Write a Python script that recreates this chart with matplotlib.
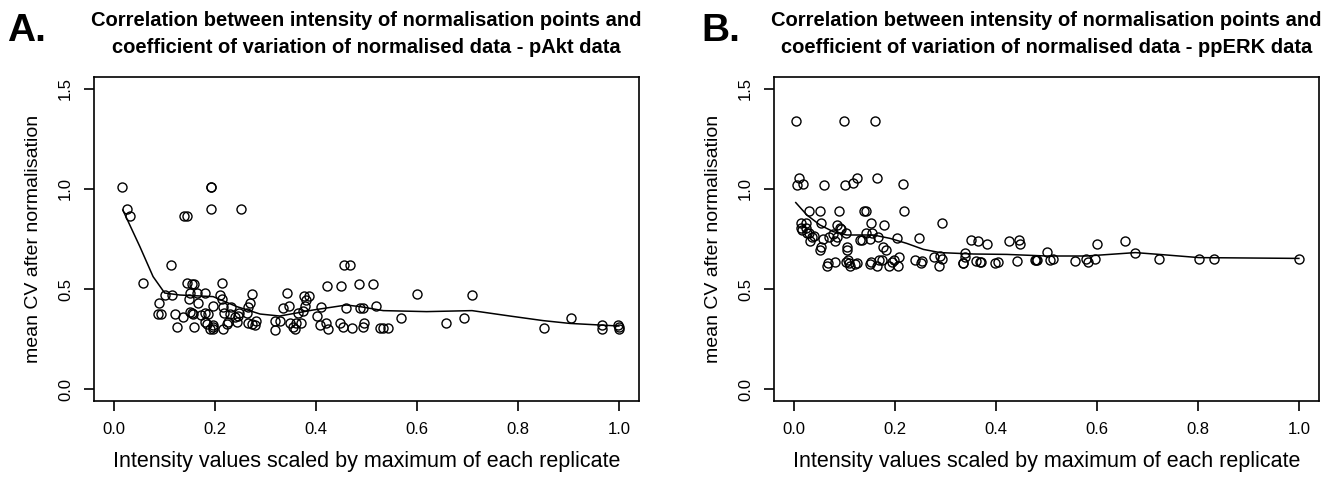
import numpy as np
import matplotlib
matplotlib.use('Agg')
from matplotlib import pyplot as plt

plt.rcParams['font.family'] = ['Liberation Sans', 'DejaVu Sans']

# ---- panel A: pAkt data ----
akt_x = [0.015, 0.026, 0.032, 0.057, 0.112, 0.139, 0.144, 0.192, 0.192, 0.192, 0.251,
         0.089, 0.087, 0.092, 0.100, 0.114, 0.120, 0.124, 0.136, 0.145, 0.155, 0.159,
         0.151, 0.164, 0.180, 0.149, 0.167, 0.151, 0.155, 0.157, 0.159, 0.171, 0.179,
         0.186, 0.180, 0.184, 0.190, 0.196, 0.196, 0.195, 0.196, 0.213, 0.209, 0.214,
         0.216, 0.217, 0.215, 0.223, 0.225, 0.232, 0.229, 0.240, 0.245, 0.247, 0.243,
         0.266, 0.270, 0.273, 0.264, 0.266, 0.274, 0.278, 0.281, 0.319, 0.328, 0.319,
         0.335, 0.346, 0.343, 0.348, 0.354, 0.358, 0.361, 0.371, 0.365, 0.375, 0.378,
         0.380, 0.377, 0.385, 0.402, 0.410, 0.407, 0.419, 0.423, 0.421, 0.449, 0.455,
         0.468, 0.459, 0.447, 0.453, 0.472, 0.493, 0.495, 0.486, 0.513, 0.488, 0.493,
         0.519, 0.527, 0.533, 0.543, 0.568, 0.599, 0.657, 0.694, 0.709, 0.851, 0.905,
         0.967, 0.967, 0.999, 1.000, 1.000]
akt_y = [1.008, 0.898, 0.865, 0.532, 0.622, 0.865, 0.865, 1.008, 1.008, 0.898, 0.898,
         0.432, 0.375, 0.375, 0.472, 0.472, 0.375, 0.312, 0.360, 0.532, 0.523, 0.523,
         0.478, 0.478, 0.478, 0.448, 0.432, 0.387, 0.378, 0.375, 0.312, 0.368, 0.378,
         0.375, 0.333, 0.325, 0.300, 0.300, 0.320, 0.310, 0.417, 0.532, 0.472, 0.448,
         0.412, 0.378, 0.300, 0.325, 0.333, 0.412, 0.374, 0.362, 0.365, 0.378, 0.333,
         0.412, 0.428, 0.475, 0.378, 0.332, 0.325, 0.320, 0.342, 0.342, 0.342, 0.295,
         0.405, 0.417, 0.478, 0.332, 0.312, 0.298, 0.328, 0.332, 0.378, 0.392, 0.417,
         0.445, 0.467, 0.467, 0.367, 0.412, 0.320, 0.332, 0.298, 0.517, 0.517, 0.622,
         0.622, 0.405, 0.328, 0.312, 0.303, 0.312, 0.332, 0.525, 0.525, 0.407, 0.405,
         0.417, 0.303, 0.303, 0.303, 0.357, 0.475, 0.328, 0.357, 0.468, 0.303, 0.357,
         0.320, 0.298, 0.320, 0.310, 0.298]
akt_fit_x = [0.017, 0.051, 0.077, 0.100, 0.130, 0.196, 0.243, 0.289, 0.328, 0.394,
             0.460, 0.487, 0.533, 0.619, 0.709, 0.784, 0.850, 0.903, 1.000]
akt_fit_y = [0.895, 0.711, 0.562, 0.480, 0.470, 0.462, 0.412, 0.375, 0.365, 0.395,
             0.420, 0.412, 0.392, 0.387, 0.392, 0.365, 0.342, 0.328, 0.315]

# ---- panel B: ppERK data ----
erk_x = [0.003, 0.099, 0.160, 0.010, 0.006, 0.018, 0.059, 0.100, 0.117, 0.124, 0.163,
         0.215, 0.030, 0.051, 0.089, 0.139, 0.142, 0.217, 0.013, 0.023, 0.054, 0.085,
         0.090, 0.153, 0.178, 0.293, 0.013, 0.015, 0.023, 0.025, 0.030, 0.039, 0.036,
         0.031, 0.056, 0.054, 0.051, 0.069, 0.077, 0.081, 0.085, 0.092, 0.102, 0.104,
         0.104, 0.130, 0.134, 0.143, 0.155, 0.165, 0.150, 0.175, 0.182, 0.204, 0.247,
         0.350, 0.365, 0.382, 0.425, 0.445, 0.447, 0.277, 0.289, 0.293, 0.338, 0.338,
         0.334, 0.064, 0.067, 0.080, 0.102, 0.106, 0.108, 0.111, 0.120, 0.125, 0.150,
         0.153, 0.163, 0.167, 0.173, 0.188, 0.194, 0.198, 0.205, 0.207, 0.239, 0.252,
         0.253, 0.287, 0.334, 0.361, 0.368, 0.371, 0.398, 0.404, 0.441, 0.477, 0.480,
         0.482, 0.500, 0.507, 0.513, 0.557, 0.578, 0.583, 0.596, 0.600, 0.655, 0.676,
         0.723, 0.802, 0.831, 1.000]
erk_y = [1.342, 1.342, 1.342, 1.057, 1.020, 1.025, 1.020, 1.020, 1.028, 1.057, 1.057,
         1.025, 0.890, 0.890, 0.890, 0.890, 0.890, 0.890, 0.832, 0.832, 0.832, 0.820,
         0.803, 0.832, 0.820, 0.832, 0.803, 0.795, 0.803, 0.778, 0.778, 0.765, 0.758,
         0.742, 0.748, 0.712, 0.695, 0.762, 0.775, 0.738, 0.762, 0.798, 0.782, 0.712,
         0.695, 0.745, 0.745, 0.778, 0.782, 0.762, 0.748, 0.712, 0.695, 0.753, 0.757,
         0.745, 0.742, 0.725, 0.742, 0.745, 0.725, 0.662, 0.665, 0.648, 0.682, 0.662,
         0.632, 0.617, 0.628, 0.637, 0.637, 0.645, 0.628, 0.617, 0.625, 0.628, 0.625,
         0.633, 0.617, 0.645, 0.645, 0.617, 0.637, 0.645, 0.617, 0.662, 0.645, 0.628,
         0.642, 0.617, 0.628, 0.642, 0.637, 0.637, 0.628, 0.637, 0.640, 0.645, 0.645,
         0.645, 0.683, 0.645, 0.650, 0.640, 0.650, 0.637, 0.650, 0.723, 0.740, 0.682,
         0.652, 0.652, 0.652, 0.652]
erk_fit_x = [0.003, 0.025, 0.051, 0.077, 0.104, 0.157, 0.190, 0.223, 0.256, 0.289,
             0.355, 0.421, 0.500, 0.579, 0.676, 0.723, 0.802, 1.000]
erk_fit_y = [0.932, 0.870, 0.820, 0.787, 0.770, 0.770, 0.753, 0.728, 0.698, 0.682,
             0.675, 0.673, 0.665, 0.665, 0.682, 0.673, 0.657, 0.653]

titles = ['Correlation between intensity of normalisation points and\n'
          'coefficient of variation of normalised data - pAkt data',
          'Correlation between intensity of normalisation points and\n'
          'coefficient of variation of normalised data - ppERK data']
letters = ['A.', 'B.']

fig = plt.figure(figsize=(13.3, 4.78), dpi=100)
ax_a = fig.add_axes([0.0707, 0.161, 0.4098, 0.678])
ax_b = fig.add_axes([0.582, 0.161, 0.4098, 0.678])

panels = [(ax_a, akt_x, akt_y, akt_fit_x, akt_fit_y),
          (ax_b, erk_x, erk_y, erk_fit_x, erk_fit_y)]

for i, (ax, x, y, fx, fy) in enumerate(panels):
    ax.plot(x, y, 'o', mfc='none', mec='black', ms=6.5, mew=1.0)
    ax.plot(fx, fy, '-', color='black', lw=1.1)
    ax.set_xlim(-0.04, 1.04)
    ax.set_ylim(-0.06, 1.56)
    ax.set_xticks([0.0, 0.2, 0.4, 0.6, 0.8, 1.0])
    ax.set_xticklabels(['0.0', '0.2', '0.4', '0.6', '0.8', '1.0'])
    ax.set_yticks([0.0, 0.5, 1.0, 1.5])
    ax.set_yticklabels(['0.0', '0.5', '1.0', '1.5'], rotation=90, va='center')
    ax.tick_params(direction='out', length=7, width=1.2, labelsize=12, pad=8)
    for s in ax.spines.values():
        s.set_linewidth(1.2)
    ax.set_xlabel('Intensity values scaled by maximum of each replicate',
                  fontsize=15.5, labelpad=10)
    ax.set_ylabel('mean CV after normalisation', fontsize=14, labelpad=12)
    ax.set_title(titles[i], fontsize=14.5, fontweight='bold', pad=17, linespacing=1.55)

fig.text(0.005, 0.915, letters[0], fontsize=28, fontweight='bold', ha='left', va='baseline')
fig.text(0.527, 0.915, letters[1], fontsize=28, fontweight='bold', ha='left', va='baseline')

plt.savefig('out.png', dpi=100)
plt.close()
